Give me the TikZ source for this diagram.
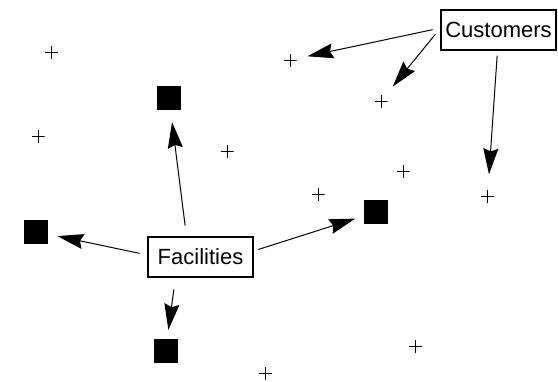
\documentclass[tikz,border=0pt]{standalone}
\usepackage{fontspec}
\setmainfont{Liberation Sans}
\usetikzlibrary{arrows.meta}

\tikzset{
    box/.style={draw, line width=1.1pt, minimum height=40pt, inner xsep=4pt, font=\fontsize{22}{25}\selectfont},
    site/.style={fill=black, minimum size=24pt, inner sep=0pt},
    cust/.style={minimum size=13pt, inner sep=0pt,
        path picture={\draw[line width=1pt] (path picture bounding box.north) -- (path picture bounding box.south)
            (path picture bounding box.west) -- (path picture bounding box.east);}},
    link/.style={line width=1pt, -{Stealth[length=26pt, width=15pt, inset=3pt]}}
}

\begin{document}
\begin{tikzpicture}[x=1pt, y=-1pt]
        \useasboundingbox (0,0) rectangle (558,381);

        % customer points
        \node[cust] (c1) at (51.5,52) {};
        \node[cust] (c2) at (290,60) {};
        \node[cust] (c3) at (381,101) {};
        \node[cust] (c4) at (38,136.5) {};
        \node[cust] (c5) at (227,151) {};
        \node[cust] (c6) at (403,171.5) {};
        \node[cust] (c7) at (318,194) {};
        \node[cust] (c8) at (487.5,196) {};
        \node[cust] (c9) at (415.5,346.5) {};
        \node[cust] (c10) at (265.5,373) {};

        % facility sites
        \node[site] (s1) at (169,98) {};
        \node[site] (s2) at (35.5,231.5) {};
        \node[site] (s3) at (376,212) {};
        \node[site] (s4) at (165.5,351) {};

        % labels
        \node[box, minimum width=115pt] (cbox) at (498.5,30) {Customers};
        \node[box, minimum width=105pt] (fbox) at (200.5,257) {Facilities};

        \draw[link, shorten <=8pt, shorten >=11pt] ([yshift=2pt]cbox.west) -- (c2);
        \draw[link, shorten <=8pt, shorten >=10pt] ([yshift=2pt]cbox.west) -- (c3);
        \draw[link, shorten <=5pt, shorten >=15pt] ([xshift=-1pt]cbox.south) -- (c8);

        \draw[link, shorten <=11pt, shorten >=12pt] ([xshift=-14pt]fbox.north) -- (s1);
        \draw[link, shorten <=8pt, shorten >=10pt] ([yshift=2pt]fbox.west) -- (s2);
        \draw[link, shorten <=5pt, shorten >=9pt] ([yshift=6pt]fbox.east) -- (s3);
        \draw[link, shorten <=12pt, shorten >=9pt] ([xshift=-25pt]fbox.south) -- (s4);
    \end{tikzpicture}
\end{document}
